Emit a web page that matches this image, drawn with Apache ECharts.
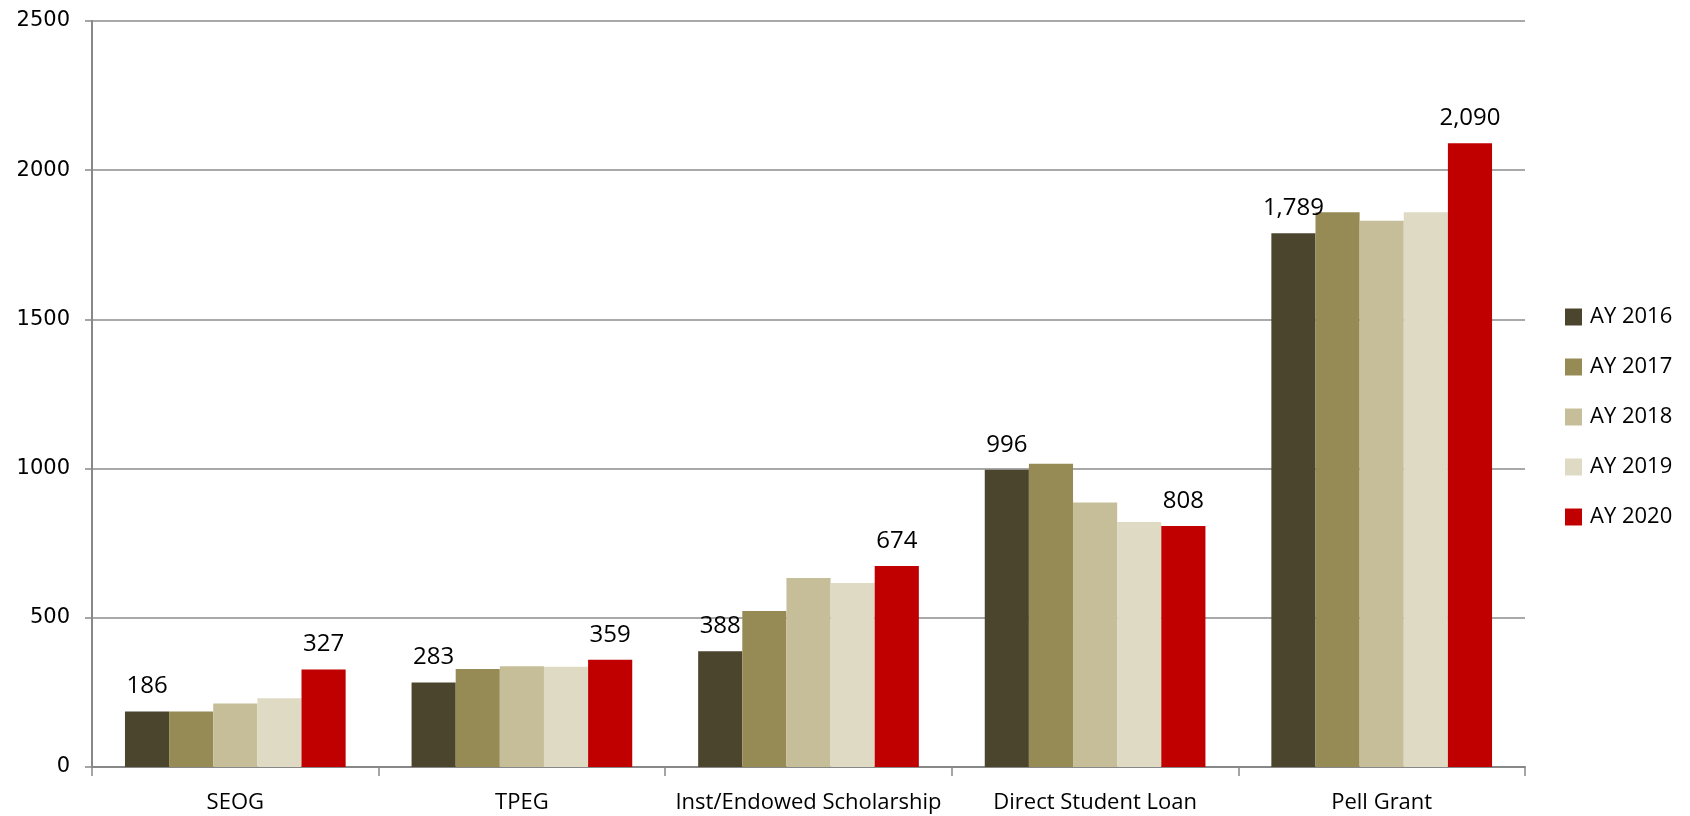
<!DOCTYPE html>
<html><head><meta charset="utf-8">
<script src="https://cdn.jsdelivr.net/npm/echarts@6/dist/echarts.min.js"></script>
<style>html,body{margin:0;padding:0;background:#fff}#c{width:1690px;height:816px}</style>
</head><body><div id="c"></div>
<script>
const categories = ['SEOG', 'TPEG', 'Inst/Endowed Scholarship', 'Direct Student Loan', 'Pell Grant'];
const seriesNames = ['AY 2016', 'AY 2017', 'AY 2018', 'AY 2019', 'AY 2020'];
const ay2016 = [186, 283, 388, 996, 1789];
const ay2017 = [186, 328, 523, 1016, 1859];
const ay2018 = [213, 338, 633, 886, 1831];
const ay2019 = [230, 336, 617, 821, 1859];
const ay2020 = [327, 359, 674, 808, 2090];
const yTicks = [0, 500, 1000, 1500, 2000, 2500];
const colors = ['#4B452E', '#968B55', '#C6BE99', '#DFDAC4', '#C00000'];
const showLabel = [true, false, false, false, true];
const values = [ay2016, ay2017, ay2018, ay2019, ay2020];

const font = "'Open Sans', 'Noto Sans', sans-serif";
const chart = echarts.init(document.getElementById('c'), null, {renderer: 'canvas'});
chart.setOption({
  animation: false,
  color: colors,
  grid: {left: 92, right: 165, top: 21, bottom: 49, containLabel: false},
  legend: {
    orient: 'vertical', left: 1560, top: 301,
    itemWidth: 17, itemHeight: 17, itemGap: 28,
    icon: 'rect',
    textStyle: {fontFamily: font, fontSize: 22, lineHeight: 20, color: '#000', padding: [0,0,0,3]},
    data: seriesNames
  },
  xAxis: {
    type: 'category', data: categories,
    axisLine: {lineStyle: {color: '#888', width: 2}},
    axisTick: {show: true, length: 9, lineStyle: {color: '#888', width: 1.5}},
    axisLabel: {interval: 0, fontFamily: font, fontSize: 22, color: '#000', margin: 25}
  },
  yAxis: {
    type: 'value', min: yTicks[0], max: yTicks[yTicks.length - 1], interval: 500,
    axisLine: {show: true, lineStyle: {color: '#888', width: 2}},
    axisTick: {show: true, length: 7, lineStyle: {color: '#888', width: 1.5}},
    splitLine: {lineStyle: {color: '#8c8c8c', width: 1.5}},
    axisLabel: {fontFamily: "'DejaVu Sans', sans-serif", fontSize: 21, color: '#000', margin: 22,
      formatter: v => String(v)}
  },
  series: seriesNames.map((n, i) => ({
    name: n, type: 'bar', data: values[i],
    barGap: '0%', barCategoryGap: '23%',
    itemStyle: {color: colors[i]},
    label: {
      show: showLabel[i], position: 'top', distance: 13,
      fontFamily: font, fontSize: 24, color: '#000',
      formatter: p => p.value.toLocaleString('en-US')
    }
  }))
});
</script></body></html>
